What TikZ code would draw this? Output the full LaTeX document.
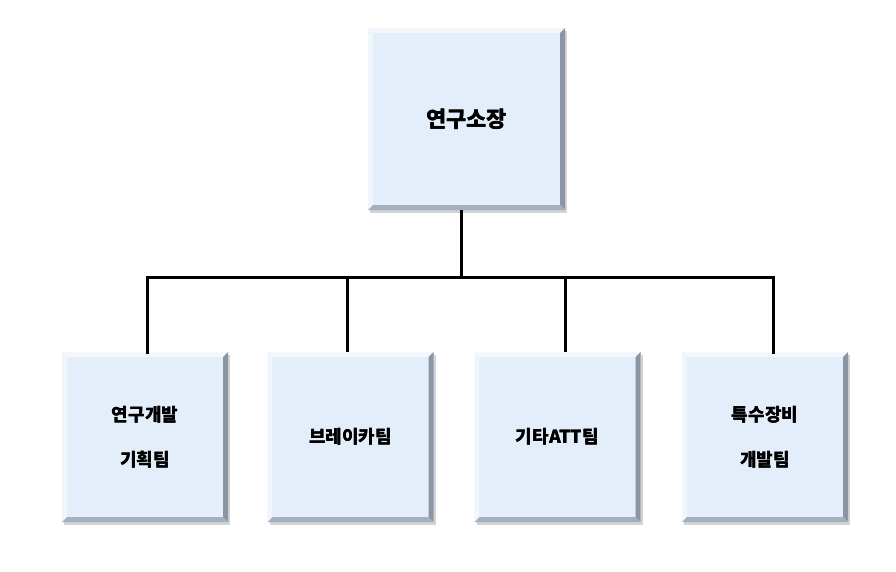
\documentclass[tikz,border=0pt]{standalone}
\usepackage{fontspec}
\setmainfont{Noto Sans CJK KR}
\usetikzlibrary{shadows}
\definecolor{bfill}{HTML}{E3EEFA}
\definecolor{bdark}{HTML}{8A96A3}
\definecolor{blight}{HTML}{F4F8FD}
\tikzset{
  bbox/.style={draw=none,fill=bfill,drop shadow={shadow xshift=2pt,shadow yshift=-3pt,opacity=0.35},inner sep=0pt,font=\bfseries},
}
\newcommand{\bevel}[1]{%
  \fill[blight] (#1.north west) -- (#1.north east) -- ([xshift=-5pt,yshift=-5pt]#1.north east) -- ([xshift=5pt,yshift=-5pt]#1.north west) -- cycle;
  \fill[blight!80!bfill] (#1.north west) -- (#1.south west) -- ([xshift=5pt,yshift=5pt]#1.south west) -- ([xshift=5pt,yshift=-5pt]#1.north west) -- cycle;
  \fill[bdark] (#1.north east) -- (#1.south east) -- ([xshift=-5pt,yshift=5pt]#1.south east) -- ([xshift=-5pt,yshift=-5pt]#1.north east) -- cycle;
  \fill[bdark!70!bfill] (#1.south west) -- (#1.south east) -- ([xshift=-5pt,yshift=5pt]#1.south east) -- ([xshift=5pt,yshift=5pt]#1.south west) -- cycle;
}
\begin{document}
\begin{tikzpicture}[x=1pt,y=-1pt]
\useasboundingbox (0,0) rectangle (896,571);
\node[bbox,minimum width=197pt,minimum height=182pt,font=\bfseries\fontsize{22}{26}\selectfont] (top) at (466.5,119) {연구소장};
\node[bbox,minimum width=166pt,minimum height=170pt,align=center,font=\bfseries\fontsize{18}{45}\selectfont] (a) at (145,437) {연구개발\\기획팀};
\node[bbox,minimum width=166pt,minimum height=170pt,font=\bfseries\fontsize{18}{22}\selectfont] (b) at (350.5,437) {브레이카팀};
\node[bbox,minimum width=166pt,minimum height=170pt,font=\bfseries\fontsize{18}{22}\selectfont] (c) at (557.5,437) {기타ATT팀};
\node[bbox,minimum width=166pt,minimum height=170pt,align=center,font=\bfseries\fontsize{18}{45}\selectfont] (d) at (765,437) {특수장비\\개발팀};
\begin{scope}
\bevel{top}\bevel{a}\bevel{b}\bevel{c}\bevel{d}
\end{scope}
\node[font=\bfseries\fontsize{22}{26}\selectfont] at (top) {연구소장};
\node[align=center,font=\bfseries\fontsize{18}{45}\selectfont] at (a) {연구개발\\기획팀};
\node[font=\bfseries\fontsize{18}{22}\selectfont] at (b) {브레이카팀};
\node[font=\bfseries\fontsize{18}{22}\selectfont] at (c) {기타ATT팀};
\node[align=center,font=\bfseries\fontsize{18}{45}\selectfont] at (d) {특수장비\\개발팀};
\coordinate (j) at (461,277);
\draw[line width=3pt] (461,210) -- (j);
\draw[line width=3pt,line cap=rect] (147,352) -- (147,277) -- (773,277) -- (773,352);
\draw[line width=3pt] (347,277) -- (347,352);
\draw[line width=3pt] (565,277) -- (565,352);
\end{tikzpicture}
\end{document}
